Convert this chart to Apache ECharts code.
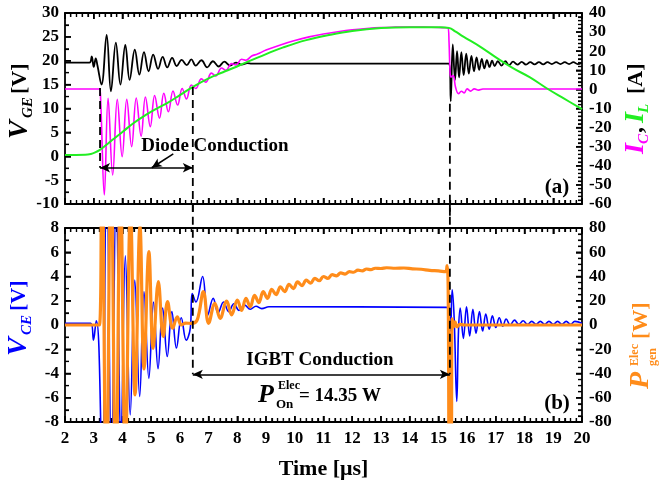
<!DOCTYPE html>
<html><head><meta charset="utf-8">
<script src="https://cdn.jsdelivr.net/npm/echarts@6/dist/echarts.min.js"></script>
<style>html,body{margin:0;padding:0;background:#fff}#c{width:660px;height:481px}</style>
</head><body><div id="c"></div>
<script>
// ---- axis ranges [min, max, step] and minor splits ----
const timeRange = [2, 20, 1];
const vgeRange = [-10, 30, 5];
const currentRange = [-60, 40, 10];
const vceRange = [-8, 8, 2];
const powerRange = [-80, 80, 20];
const minorSplits = {time:5, vge:2, current:5, vce:2, power:4};

// ---- series values [time (us), value] ----
const vGE = [[2.0,19.6],[2.85,19.6],[2.93,20.9],[3.0,18.7],[3.07,20.5],[3.13,19.0],[3.27,15.0],[3.45,25.4],[3.60,13.6],[3.77,23.8],[3.93,15.0],[4.10,23.3],[4.25,16.0],[4.43,22.3],[4.59,17.1],[4.75,21.8],[4.91,17.8],[5.07,21.3],[5.24,18.3],[5.40,20.8],[5.56,18.6],[5.73,20.6],[5.89,18.9],[6.06,20.2],[6.24,19.1],[6.40,20.3],[6.55,19.0],[6.75,20.1],[6.95,18.6],[7.15,19.9],[7.35,18.8],[7.55,19.8],[7.75,19.0],[7.95,19.6],[8.15,19.2],[8.35,19.5],[8.5,19.4],[15.38,19.4],[15.43,11.5],[15.50,23.4],[15.58,16.0],[15.65,22.0],[15.72,16.5],[15.80,21.8],[15.88,17.0],[15.97,21.5],[16.06,17.3],[16.15,21.0],[16.24,17.8],[16.33,20.7],[16.42,18.1],[16.51,20.4],[16.60,18.4],[16.69,20.1],[16.78,18.7],[16.87,20.0],[16.96,18.9],[17.07,19.9],[17.2,19.0],[17.33,19.9],[17.46,19.1],[17.6,19.8],[17.75,19.2],[17.9,19.75],[18.05,19.2],[18.2,19.7],[18.35,19.25],[18.5,19.7],[18.65,19.25],[18.8,19.7],[18.95,19.3],[19.1,19.7],[19.25,19.3],[19.4,19.7],[19.55,19.3],[19.7,19.7],[19.85,19.3],[20,19.6]];
const iC = [[2.0,0.2],[3.2,0.2],[3.24,-5],[3.37,-55.3],[3.50,-4.7],[3.66,-44.8],[3.82,-5.2],[3.99,-35.2],[4.15,-5.2],[4.32,-30],[4.48,-4.5],[4.65,-24.5],[4.80,-4.0],[4.97,-19.5],[5.12,-3.2],[5.29,-15.1],[5.44,-2.0],[5.60,-11.7],[5.76,-0.8],[5.92,-8.2],[6.08,0.5],[6.23,-5.0],[6.40,2.3],[6.55,0.5],[6.75,5.5],[6.9,3.8],[7.1,8.5],[7.25,7.0],[7.45,11.2],[7.6,10.0],[7.8,13.5],[7.95,12.8],[8.15,15.8],[8.3,15.3],[8.5,17.5],[8.7,18.5],[9.0,20.6],[9.5,23.3],[10,25.6],[10.5,27.5],[11,29],[11.5,30.2],[12,31.2],[12.5,31.9],[13,32.4],[13.5,32.6],[14,32.7],[14.5,32.6],[15,32.4],[15.33,32.2],[15.37,25],[15.41,8],[15.45,6.5],[15.5,7.2],[15.54,6.5],[15.6,1],[15.7,-2.2],[15.8,-1.0],[15.9,-1.8],[16.0,0.3],[16.12,-0.9],[16.25,0.3],[16.4,-0.4],[16.55,0.2],[20,0.2]];
const iL = [[2.0,-34.3],[2.7,-34.2],[2.9,-33.8],[3.05,-33.0],[3.2,-31.8],[3.4,-29.5],[3.7,-25.8],[4.0,-22.3],[4.38,-17.7],[4.8,-13.5],[5.2,-10.0],[5.54,-7.3],[6.0,-3.0],[6.47,1.5],[7.0,5.8],[7.5,9.0],[7.86,11.2],[8.33,14.3],[9.0,18.5],[9.6,22.0],[10.4,25.8],[11.23,28.6],[12,30.6],[13,32.1],[14,32.6],[15,32.5],[15.37,32.2],[15.6,30.2],[15.87,27.6],[16.45,22.4],[17.03,16.5],[17.61,11.0],[18.19,6.3],[18.77,0.6],[19.35,-4.6],[20.0,-10.3]];
const vCE = [[2.0,0.15],[2.9,0.15],[2.99,-1.25],[3.09,0.35],[3.18,-1.8],[3.3,-14],[3.45,14],[3.62,-12],[3.78,11],[3.95,-9.5],[4.10,5.7],[4.27,-7.4],[4.43,3.7],[4.6,-5.9],[4.75,2.75],[4.92,-4.4],[5.08,1.9],[5.24,-3.6],[5.40,1.4],[5.56,-2.6],[5.72,1.1],[5.88,-1.9],[6.05,0.6],[6.22,-1.25],[6.36,-0.3],[6.43,2.6],[6.56,1.9],[6.79,4.0],[6.97,0.8],[7.16,2.2],[7.33,1.0],[7.52,1.9],[7.7,1.1],[7.88,1.75],[8.06,1.2],[8.25,1.65],[8.45,1.3],[8.65,1.55],[8.85,1.35],[9.1,1.5],[15.28,1.45],[15.36,1.3],[15.42,-0.5],[15.48,2.9],[15.55,0.5],[15.64,-6.3],[15.70,-0.5],[15.76,1.4],[15.87,-1.1],[15.98,1.5],[16.09,-0.9],[16.2,1.3],[16.31,-0.7],[16.43,1.1],[16.54,-0.5],[16.65,0.9],[16.77,-0.35],[16.88,0.75],[17.0,-0.2],[17.12,0.6],[17.24,-0.1],[17.36,0.5],[17.5,0.0],[17.65,0.4],[17.8,0.05],[17.95,0.35],[18.1,0.05],[18.25,0.3],[18.4,0.05],[18.55,0.3],[18.7,0.05],[18.85,0.3],[19.0,0.05],[19.15,0.3],[19.3,0.05],[19.45,0.3],[19.6,0.05],[19.75,0.3],[20,0.15]];
const pGen = [[2.0,0],[3.2,0],[3.28,150],[3.44,-150],[3.6,140],[3.77,-140],[3.93,120],[4.1,-110],[4.28,95],[4.44,-57.7],[4.61,82],[4.75,-36.3],[4.92,60.5],[5.07,-19.2],[5.25,35.7],[5.42,-9.6],[5.57,19.2],[5.75,-2.7],[5.91,6.8],[6.05,0],[6.2,1.5],[6.4,1.4],[6.6,4],[6.82,27.5],[7.0,1.4],[7.22,17.9],[7.4,5.5],[7.63,19.8],[7.8,8.3],[8.0,20.6],[8.15,12],[8.3,22],[8.45,15],[8.6,24.5],[8.75,18.5],[8.9,27.5],[9.05,22],[9.2,29.5],[9.35,25],[9.5,31.5],[9.65,27.5],[9.8,33.5],[9.95,30],[10.1,35.5],[10.25,32.5],[10.4,37],[10.55,34.5],[10.7,38.5],[10.85,36.5],[11.0,40],[11.15,38.5],[11.3,41.5],[11.45,40.5],[11.6,43],[11.75,42],[11.9,44],[12.05,43.5],[12.2,45.3],[12.35,44.7],[12.5,46.2],[12.65,45.6],[12.8,46.8],[13.0,46.6],[13.2,47.2],[13.5,46.8],[13.8,47.0],[14.1,46.3],[14.4,46.0],[14.7,45.0],[15.0,44.6],[15.25,44],[15.3,49],[15.34,30],[15.39,-150],[15.44,-150],[15.48,5],[15.53,-1.5],[15.58,2.5],[15.65,-1.5],[15.75,0.5],[15.9,0],[20,0]];

// ---- annotation marks (data coordinates) ----
const dashDiodeStart = [[3.22,14.3],[3.22,-2.4]];
const dashOnTop = [[6.45,14.5],[6.45,-12.5]];
const dashOffTop = [[15.4,11],[15.4,-12.5]];
const dashOnBottom = [[6.45,10],[6.45,-4.07]];
const dashOffBottom = [[15.4,10],[15.4,-4.07]];
const diodeArrow = [[3.22,-2.4],[6.45,-2.4]];
const diodePointer = [[5.77,0.5],[5.02,-2.4]];
const igbtArrow = [[6.45,-4.07],[15.4,-4.07]];

const FF = '"Liberation Serif", "Times New Roman", serif';
const C = {black:'#000000', mag:'#ff00ff', green:'#22ee22', blue:'#0000ff', orange:'#ff8c1a'};
const TICK = {major:6, minor:4, majorW:1.5, minorW:1.2};

function xAx(grid, pos, labels) {
  return {
    type:'value', gridIndex:grid, position:pos, min:timeRange[0], max:timeRange[1], interval:timeRange[2],
    axisLine:{show:true, onZero:false, lineStyle:{color:'#000', width:1.8}},
    axisTick:{show:true, inside:true, length:TICK.major, lineStyle:{color:'#000', width:TICK.majorW}},
    minorTick:{show:true, splitNumber:minorSplits.time, length:TICK.minor, lineStyle:{color:'#000', width:TICK.minorW}},
    splitLine:{show:false}, minorSplitLine:{show:false},
    axisLabel:{show:labels, color:'#000', fontFamily:FF, fontWeight:'bold', fontSize:17, margin:8},
    name: labels ? 'Time [μs]' : '', nameLocation:'middle', nameGap:36,
    nameTextStyle:{color:'#000', fontFamily:FF, fontWeight:'bold', fontSize:22}
  };
}
function yAx(grid, pos, r, minor) {
  return {
    type:'value', gridIndex:grid, position:pos, min:r[0], max:r[1], interval:r[2],
    axisLine:{show:true, onZero:false, lineStyle:{color:'#000', width:1.8}},
    axisTick:{show:true, inside:true, length:TICK.major, lineStyle:{color:'#000', width:TICK.majorW}},
    minorTick:{show:true, splitNumber:minor, length:TICK.minor, lineStyle:{color:'#000', width:TICK.minorW}},
    splitLine:{show:false}, minorSplitLine:{show:false},
    axisLabel:{color:'#000', fontFamily:FF, fontWeight:'bold', fontSize:17, margin:pos==='left'?6:7}
  };
}
function curve(data, xi, yi, color, width) {
  return {type:'line', xAxisIndex:xi, yAxisIndex:yi, data:data, showSymbol:false,
    smooth:0.4, lineStyle:{color:color, width:width}, itemStyle:{color:color}};
}
function dash(data, xi, yi, marks) {
  const s = {type:'line', xAxisIndex:xi, yAxisIndex:yi, data:data, clip:false, showSymbol:false,
    lineStyle:{color:'#000', width:1.8, type:[8,5]}, itemStyle:{color:'#000'}};
  if (marks) {
    s.markLine = {animation:false, symbol:['arrow','arrow'], symbolSize:[7,10],
      label:{show:false}, lineStyle:{color:'#000', width:1.6, type:'solid'}, data:marks};
  }
  return s;
}
function seg(p, s1, s2) { return [{coord:p[0], symbol:s1}, {coord:p[1], symbol:s2}]; }

// tick positions taken from the axis definitions: [value, isMajor]
function tickValues(r, split) {
  const out = []; const n = Math.round((r[1] - r[0]) / r[2]) * split;
  for (let i = 0; i <= n; i++) out.push([r[0] + i * r[2] / split, i % split === 0 ? 1 : 0]);
  return out;
}
// frame ticks drawn through the axis scales (mirrors the inward axis ticks)
function xTickSeries(xi, yi, yr) {
  return {type:'custom', xAxisIndex:xi, yAxisIndex:yi, data:tickValues(timeRange, minorSplits.time), clip:false, silent:true,
    renderItem:(params, api) => {
      const v = api.value(0), major = api.value(1) === 1;
      const L = major ? TICK.major : TICK.minor, W = major ? TICK.majorW : TICK.minorW;
      const b = api.coord([v, yr[0]]), t = api.coord([v, yr[1]]);
      return {type:'group', children:[
        {type:'line', shape:{x1:b[0], y1:b[1], x2:b[0], y2:b[1]-L}, style:{stroke:'#000', lineWidth:W}},
        {type:'line', shape:{x1:t[0], y1:t[1], x2:t[0], y2:t[1]+L}, style:{stroke:'#000', lineWidth:W}}
      ]};
    }};
}
function yTickSeries(xi, yi, r, split, side) {
  return {type:'custom', xAxisIndex:xi, yAxisIndex:yi, data:tickValues(r, split), clip:false, silent:true,
    encode:{x:-1, y:0},
    renderItem:(params, api) => {
      const v = api.value(0), major = api.value(1) === 1;
      const L = major ? TICK.major : TICK.minor, W = major ? TICK.majorW : TICK.minorW;
      const p = api.coord([side === 'left' ? timeRange[0] : timeRange[1], v]);
      const d = side === 'left' ? L : -L;
      return {type:'line', shape:{x1:p[0], y1:p[1], x2:p[0]+d, y2:p[1]}, style:{stroke:'#000', lineWidth:W}};
    }};
}

function titleGroup(x, y, parts) {
  return {type:'group', x:x, y:y, rotation:Math.PI/2, children: parts.map(p => ({
    type:'text', x:p[1], y:p[2], style:{text:p[0], font:p[3], fill:p[4], align:'left', verticalAlign:'middle'}
  }))};
}
const IB = s => 'italic bold ' + s + 'px ' + FF;
const B = s => 'bold ' + s + 'px ' + FF;
const txt = (x, y, t, font, align) => ({type:'text', x:x, y:y, style:{text:t, font:font, fill:'#000', align:align, verticalAlign:'middle'}});

const chart = echarts.init(document.getElementById('c'));
chart.setOption({
  animation:false,
  grid:[{left:65, right:78, top:13, height:191}, {left:65, right:78, top:228, height:194}],
  xAxis:[xAx(0,'bottom',false), xAx(0,'top',false), xAx(1,'bottom',true), xAx(1,'top',false)],
  yAxis:[yAx(0,'left',vgeRange,minorSplits.vge), yAx(0,'right',currentRange,minorSplits.current),
         yAx(1,'left',vceRange,minorSplits.vce), yAx(1,'right',powerRange,minorSplits.power)],
  series:[
    curve(vGE,0,0,C.black,1.8),
    curve(iC,0,1,C.mag,1.6),
    curve(iL,0,1,C.green,2),
    curve(vCE,2,2,C.blue,1.6),
    curve(pGen,2,3,C.orange,3.2),
    dash(dashDiodeStart,0,0,[seg(diodeArrow,'arrow','arrow'), seg(diodePointer,'none','arrow')]),
    dash(dashOnTop,0,0),
    dash(dashOffTop,0,0),
    dash(dashOnBottom,2,2,[seg(igbtArrow,'arrow','arrow')]),
    dash(dashOffBottom,2,2),
    xTickSeries(0,0,vgeRange),
    xTickSeries(2,2,vceRange),
    yTickSeries(0,0,vgeRange,minorSplits.vge,'left'),
    yTickSeries(0,1,currentRange,minorSplits.current,'right'),
    yTickSeries(2,2,vceRange,minorSplits.vce,'left'),
    yTickSeries(2,3,powerRange,minorSplits.power,'right')
  ],
  graphic:[
    titleGroup(20,139,[['V',0,0,IB(28),C.black],['GE',21,8,IB(15),C.black],['[V]',45,0,B(22),C.black]]),
    titleGroup(636,154,[['I',0,0,IB(28),C.mag],['C',10,8,IB(15),C.mag],[',',21,0,B(24),C.black],['I',31,0,IB(28),C.green],['L',41,8,IB(15),C.green],['[A]',60,0,B(22),C.black]]),
    titleGroup(19,356,[['V',0,0,IB(28),C.blue],['CE',21,8,IB(15),C.blue],['[V]',45,0,B(22),C.blue]]),
    titleGroup(641,389,[['P',0,0,IB(28),C.orange],['Elec',23,-6,B(12),C.orange],['gen',23,12,B(12),C.orange],['[W]',50,0,B(22),C.orange]]),
    txt(215,146,'Diode Conduction',B(19),'center'),
    txt(557,188,'(a)',B(21),'center'),
    txt(557,404,'(b)',B(21),'center'),
    txt(320,360,'IGBT Conduction',B(19),'center'),
    txt(258,395,'P',IB(26),'left'),
    txt(278,386,'Elec',B(12),'left'),
    txt(276,405,'On',B(13),'left'),
    txt(299,396,'= 14.35 W',B(19),'left')
  ]
});
chart.resize();
</script></body></html>
